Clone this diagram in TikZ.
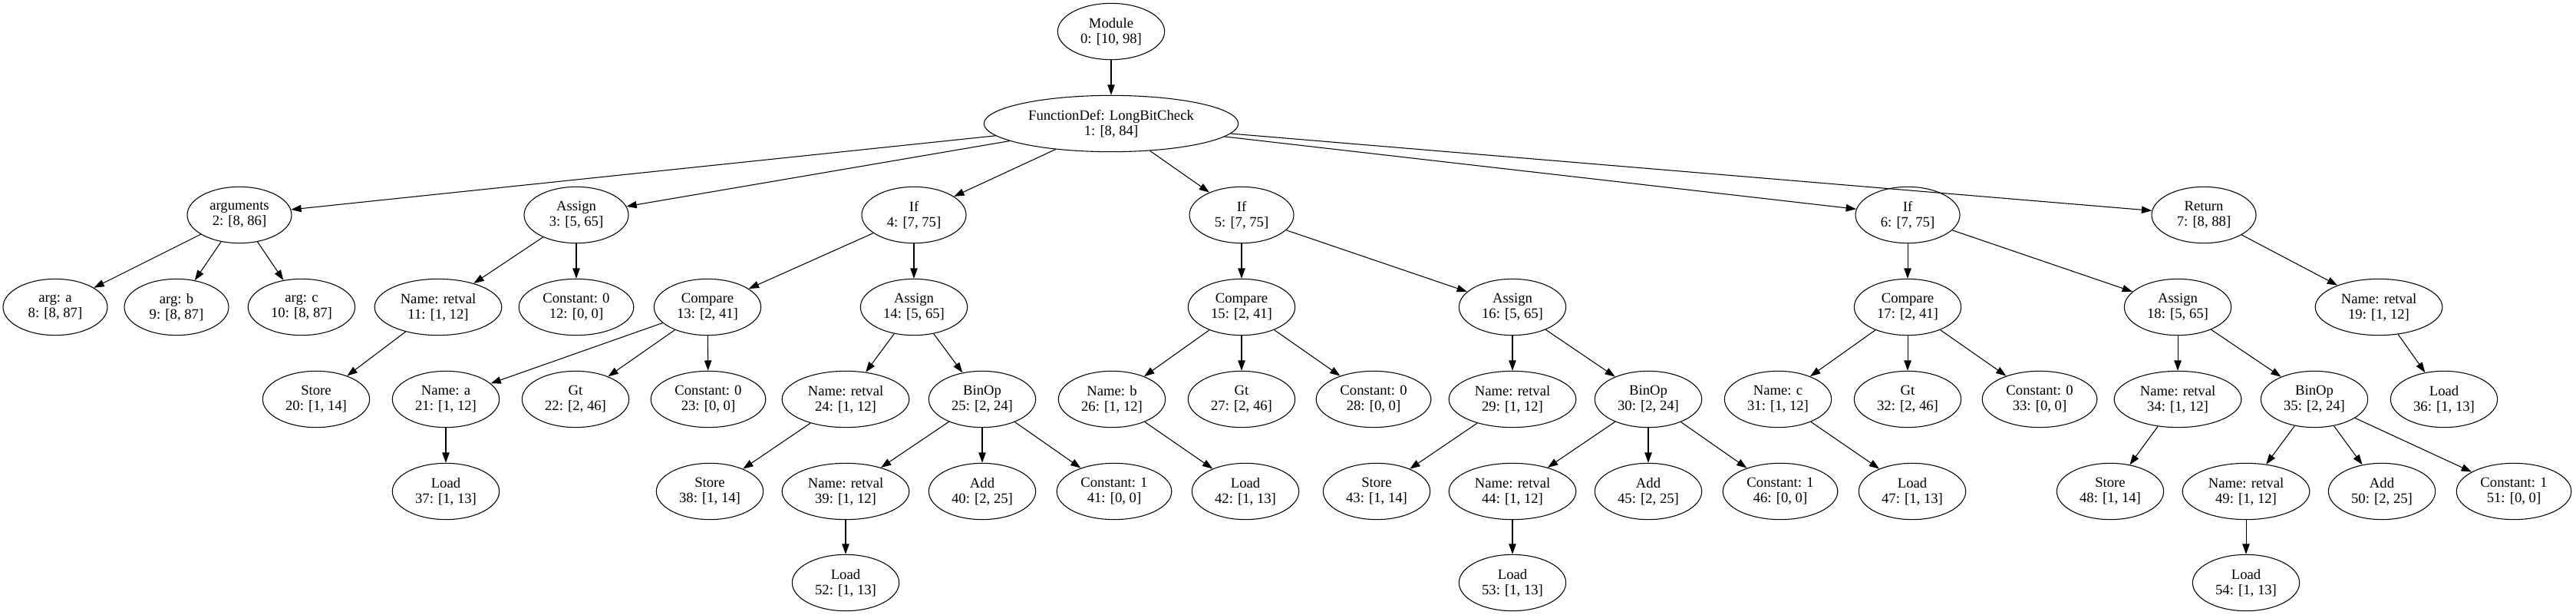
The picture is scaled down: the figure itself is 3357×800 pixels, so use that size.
\documentclass[tikz,border=0pt]{standalone}
\usepackage{fontspec}
\setmainfont{Liberation Serif}
\usepackage{tikz}
\usetikzlibrary{shapes,arrows.meta,positioning}

\tikzset{
    astnode/.style={draw, ellipse, line width=0.8pt, inner xsep=7pt, inner ysep=2pt,
        minimum height=55pt, minimum width=102pt, align=center,
        font=\fontsize{14}{15}\selectfont},
    astedge/.style={line width=0.8pt, -{Triangle[length=10pt,width=7pt]}}
}

\begin{document}
\begin{tikzpicture}[x=0.75pt, y=-0.75pt]
    \useasboundingbox (0,0) rectangle (3357,800);

    % Root and function definition
    \node[astnode] (n0) at (1448,41) {Module\\0: [10, 98]};
    \node[astnode] (n1) at (1448,161) {FunctionDef: LongBitCheck\\1: [8, 84]};

    % Function body
    \node[astnode] (n2) at (312,280) {arguments\\2: [8, 86]};
    \node[astnode] (n3) at (751,280) {Assign\\3: [5, 65]};
    \node[astnode] (n4) at (1191,280) {If\\4: [7, 75]};
    \node[astnode] (n5) at (1618,280) {If\\5: [7, 75]};
    \node[astnode] (n6) at (2486,280) {If\\6: [7, 75]};
    \node[astnode] (n7) at (2872,280) {Return\\7: [8, 88]};

    % Level 3
    \node[astnode] (n8) at (72,400) {arg: a\\8: [8, 87]};
    \node[astnode] (n9) at (230,400) {arg: b\\9: [8, 87]};
    \node[astnode] (n10) at (393,400) {arg: c\\10: [8, 87]};
    \node[astnode] (n11) at (571,400) {Name: retval\\11: [1, 12]};
    \node[astnode] (n12) at (751,400) {Constant: 0\\12: [0, 0]};
    \node[astnode] (n13) at (922,400) {Compare\\13: [2, 41]};
    \node[astnode] (n14) at (1191,400) {Assign\\14: [5, 65]};
    \node[astnode] (n15) at (1618,400) {Compare\\15: [2, 41]};
    \node[astnode] (n16) at (1971,400) {Assign\\16: [5, 65]};
    \node[astnode] (n17) at (2486,400) {Compare\\17: [2, 41]};
    \node[astnode] (n18) at (2838,400) {Assign\\18: [5, 65]};
    \node[astnode] (n19) at (3100,400) {Name: retval\\19: [1, 12]};

    % Level 4
    \node[astnode] (n20) at (412,520) {Store\\20: [1, 14]};
    \node[astnode] (n21) at (581,520) {Name: a\\21: [1, 12]};
    \node[astnode] (n22) at (750,520) {Gt\\22: [2, 46]};
    \node[astnode] (n23) at (923,520) {Constant: 0\\23: [0, 0]};
    \node[astnode] (n24) at (1102,520) {Name: retval\\24: [1, 12]};
    \node[astnode] (n25) at (1280,520) {BinOp\\25: [2, 24]};
    \node[astnode] (n26) at (1449,520) {Name: b\\26: [1, 12]};
    \node[astnode] (n27) at (1618,520) {Gt\\27: [2, 46]};
    \node[astnode] (n28) at (1790,520) {Constant: 0\\28: [0, 0]};
    \node[astnode] (n29) at (1971,520) {Name: retval\\29: [1, 12]};
    \node[astnode] (n30) at (2148,520) {BinOp\\30: [2, 24]};
    \node[astnode] (n31) at (2317,520) {Name: c\\31: [1, 12]};
    \node[astnode] (n32) at (2486,520) {Gt\\32: [2, 46]};
    \node[astnode] (n33) at (2658,520) {Constant: 0\\33: [0, 0]};
    \node[astnode] (n34) at (2838,520) {Name: retval\\34: [1, 12]};
    \node[astnode] (n35) at (3016,520) {BinOp\\35: [2, 24]};
    \node[astnode] (n36) at (3185,520) {Load\\36: [1, 13]};

    % Level 5
    \node[astnode] (n37) at (581,640) {Load\\37: [1, 13]};
    \node[astnode] (n38) at (925,640) {Store\\38: [1, 14]};
    \node[astnode] (n39) at (1102,640) {Name: retval\\39: [1, 12]};
    \node[astnode] (n40) at (1280,640) {Add\\40: [2, 25]};
    \node[astnode] (n41) at (1452,640) {Constant: 1\\41: [0, 0]};
    \node[astnode] (n42) at (1623,640) {Load\\42: [1, 13]};
    \node[astnode] (n43) at (1794,640) {Store\\43: [1, 14]};
    \node[astnode] (n44) at (1971,640) {Name: retval\\44: [1, 12]};
    \node[astnode] (n45) at (2148,640) {Add\\45: [2, 25]};
    \node[astnode] (n46) at (2320,640) {Constant: 1\\46: [0, 0]};
    \node[astnode] (n47) at (2492,640) {Load\\47: [1, 13]};
    \node[astnode] (n48) at (2750,640) {Store\\48: [1, 14]};
    \node[astnode] (n49) at (2927,640) {Name: retval\\49: [1, 12]};
    \node[astnode] (n50) at (3104,640) {Add\\50: [2, 25]};
    \node[astnode] (n51) at (3276,640) {Constant: 1\\51: [0, 0]};

    % Level 6
    \node[astnode] (n52) at (1102,759) {Load\\52: [1, 13]};
    \node[astnode] (n53) at (1971,759) {Load\\53: [1, 13]};
    \node[astnode] (n54) at (2927,759) {Load\\54: [1, 13]};

    % Edges
    \draw[astedge] (n0) -- (n1);
    \draw[astedge] (n1) -- (n2);
    \draw[astedge] (n1) -- (n3);
    \draw[astedge] (n1) -- (n4);
    \draw[astedge] (n1) -- (n5);
    \draw[astedge] (n1) -- (n6);
    \draw[astedge] (n1) -- (n7);
    \draw[astedge] (n2) -- (n8);
    \draw[astedge] (n2) -- (n9);
    \draw[astedge] (n2) -- (n10);
    \draw[astedge] (n3) -- (n11);
    \draw[astedge] (n3) -- (n12);
    \draw[astedge] (n4) -- (n13);
    \draw[astedge] (n4) -- (n14);
    \draw[astedge] (n5) -- (n15);
    \draw[astedge] (n5) -- (n16);
    \draw[astedge] (n6) -- (n17);
    \draw[astedge] (n6) -- (n18);
    \draw[astedge] (n7) -- (n19);
    \draw[astedge] (n11) -- (n20);
    \draw[astedge] (n13) -- (n21);
    \draw[astedge] (n13) -- (n22);
    \draw[astedge] (n13) -- (n23);
    \draw[astedge] (n14) -- (n24);
    \draw[astedge] (n14) -- (n25);
    \draw[astedge] (n15) -- (n26);
    \draw[astedge] (n15) -- (n27);
    \draw[astedge] (n15) -- (n28);
    \draw[astedge] (n16) -- (n29);
    \draw[astedge] (n16) -- (n30);
    \draw[astedge] (n17) -- (n31);
    \draw[astedge] (n17) -- (n32);
    \draw[astedge] (n17) -- (n33);
    \draw[astedge] (n18) -- (n34);
    \draw[astedge] (n18) -- (n35);
    \draw[astedge] (n19) -- (n36);
    \draw[astedge] (n21) -- (n37);
    \draw[astedge] (n24) -- (n38);
    \draw[astedge] (n25) -- (n39);
    \draw[astedge] (n25) -- (n40);
    \draw[astedge] (n25) -- (n41);
    \draw[astedge] (n26) -- (n42);
    \draw[astedge] (n29) -- (n43);
    \draw[astedge] (n30) -- (n44);
    \draw[astedge] (n30) -- (n45);
    \draw[astedge] (n30) -- (n46);
    \draw[astedge] (n31) -- (n47);
    \draw[astedge] (n34) -- (n48);
    \draw[astedge] (n35) -- (n49);
    \draw[astedge] (n35) -- (n50);
    \draw[astedge] (n35) -- (n51);
    \draw[astedge] (n39) -- (n52);
    \draw[astedge] (n44) -- (n53);
    \draw[astedge] (n49) -- (n54);
\end{tikzpicture}
\end{document}
